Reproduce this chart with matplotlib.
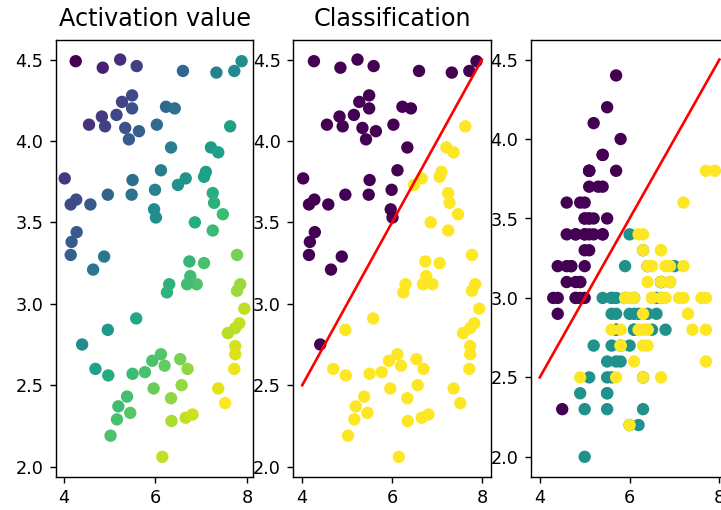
import numpy as np
import matplotlib
matplotlib.use('Agg')
import matplotlib.pyplot as plt

# sample points (x1, x2)
pts_x = [4.26, 4.85, 5.23, 5.59, 5.49, 5.27, 5.49, 5.15, 4.83, 4.55, 4.90, 5.34, 5.64, 5.42,
         4.02, 5.50, 4.96, 5.48, 4.27, 4.15, 4.58, 4.28, 4.17, 4.15, 4.88,
         4.64, 5.58, 4.96, 4.40, 4.69, 4.97, 5.50, 5.77, 5.38, 5.19, 5.45, 5.16, 5.02,
         6.74, 7.06, 7.78, 6.76, 6.90, 6.69, 6.30, 6.25, 7.85, 7.78, 7.94, 7.83, 7.74,
         7.58, 7.74, 7.74, 7.72, 6.12, 5.93, 6.20, 6.54, 6.70, 5.96, 6.57, 6.34, 7.37,
         7.52, 6.35, 6.66, 6.81, 6.15,
         6.60, 7.33, 7.72, 7.88, 6.23, 6.42, 6.03, 7.63, 6.34, 7.21, 7.37, 6.12, 7.10,
         7.06, 6.66, 6.49, 5.99, 7.25, 7.28, 7.47, 5.97, 6.01, 6.86, 7.25]
pts_y = [4.49, 4.45, 4.50, 4.46, 4.28, 4.24, 4.20, 4.16, 4.15, 4.10, 4.09, 4.08, 4.06, 4.01,
         3.77, 3.76, 3.67, 3.67, 3.64, 3.61, 3.61, 3.44, 3.38, 3.30, 3.29,
         3.21, 2.91, 2.84, 2.75, 2.60, 2.56, 2.57, 2.58, 2.43, 2.37, 2.33, 2.29, 2.19,
         3.26, 3.25, 3.30, 3.17, 3.12, 3.12, 3.12, 3.07, 3.12, 3.08, 2.97, 2.88, 2.85,
         2.82, 2.74, 2.69, 2.60, 2.69, 2.65, 2.62, 2.66, 2.60, 2.48, 2.50, 2.42, 2.48,
         2.39, 2.28, 2.30, 2.32, 2.06,
         4.43, 4.42, 4.43, 4.49, 4.21, 4.20, 4.10, 4.09, 3.96, 3.96, 3.93, 3.82, 3.81,
         3.78, 3.77, 3.73, 3.70, 3.68, 3.62, 3.55, 3.58, 3.53, 3.50, 3.45]

# perceptron weights and bias, boundary line end points
weights = [0.5, -1.0]
bias = 0.5
line_x = [4, 8]
line_y = [2.5, 4.5]

# iris: sepal length / sepal width, species 0 1 2
sepal_length = [5.1, 4.9, 4.7, 4.6, 5.0, 5.4, 4.6, 5.0, 4.4, 4.9, 5.4, 4.8, 4.8, 4.3, 5.8, 5.7, 5.4,
                5.1, 5.7, 5.1, 5.4, 5.1, 4.6, 5.1, 4.8, 5.0, 5.0, 5.2, 5.2, 4.7, 4.8, 5.4, 5.2, 5.5,
                4.9, 5.0, 5.5, 4.9, 4.4, 5.1, 5.0, 4.5, 4.4, 5.0, 5.1, 4.8, 5.1, 4.6, 5.3, 5.0,
                7.0, 6.4, 6.9, 5.5, 6.5, 5.7, 6.3, 4.9, 6.6, 5.2, 5.0, 5.9, 6.0, 6.1, 5.6, 6.7, 5.6,
                5.8, 6.2, 5.6, 5.9, 6.1, 6.3, 6.1, 6.4, 6.6, 6.8, 6.7, 6.0, 5.7, 5.5, 5.5, 5.8, 6.0,
                5.4, 6.0, 6.7, 6.3, 5.6, 5.5, 5.5, 6.1, 5.8, 5.0, 5.6, 5.7, 5.7, 6.2, 5.1, 5.7,
                6.3, 5.8, 7.1, 6.3, 6.5, 7.6, 4.9, 7.3, 6.7, 7.2, 6.5, 6.4, 6.8, 5.7, 5.8, 6.4, 6.5,
                7.7, 7.7, 6.0, 6.9, 5.6, 7.7, 6.3, 6.7, 7.2, 6.2, 6.1, 6.4, 7.2, 7.4, 7.9, 6.4, 6.3,
                6.1, 7.7, 6.3, 6.4, 6.0, 6.9, 6.7, 6.9, 5.8, 6.8, 6.7, 6.7, 6.3, 6.5, 6.2, 5.9]
sepal_width = [3.5, 3.0, 3.2, 3.1, 3.6, 3.9, 3.4, 3.4, 2.9, 3.1, 3.7, 3.4, 3.0, 3.0, 4.0, 4.4, 3.9,
               3.5, 3.8, 3.8, 3.4, 3.7, 3.6, 3.3, 3.4, 3.0, 3.4, 3.5, 3.4, 3.2, 3.1, 3.4, 4.1, 4.2,
               3.1, 3.2, 3.5, 3.6, 3.0, 3.4, 3.5, 2.3, 3.2, 3.5, 3.8, 3.0, 3.8, 3.2, 3.7, 3.3,
               3.2, 3.2, 3.1, 2.3, 2.8, 2.8, 3.3, 2.4, 2.9, 2.7, 2.0, 3.0, 2.2, 2.9, 2.9, 3.1, 3.0,
               2.7, 2.2, 2.5, 3.2, 2.8, 2.5, 2.8, 2.9, 3.0, 2.8, 3.0, 2.9, 2.6, 2.4, 2.4, 2.7, 2.7,
               3.0, 3.4, 3.1, 2.3, 3.0, 2.5, 2.6, 3.0, 2.6, 2.3, 2.7, 3.0, 2.9, 2.9, 2.5, 2.8,
               3.3, 2.7, 3.0, 2.9, 3.0, 3.0, 2.5, 2.9, 2.5, 3.6, 3.2, 2.7, 3.0, 2.5, 2.8, 3.2, 3.0,
               3.8, 2.6, 2.2, 3.2, 2.8, 2.8, 2.7, 3.3, 3.2, 2.8, 3.0, 2.8, 3.0, 2.8, 3.8, 2.8, 2.8,
               2.6, 3.0, 3.4, 3.1, 3.0, 3.1, 3.1, 3.1, 2.7, 3.2, 3.3, 3.0, 2.5, 3.0, 3.4, 3.0]
species = [0] * 50 + [1] * 50 + [2] * 50

X = np.column_stack([pts_x, pts_y])
activation = X @ np.array(weights) + bias
label = (activation > 0).astype(int)

fig, axes = plt.subplots(1, 3, figsize=(5.678, 4.0165), dpi=127)
fig.subplots_adjust(left=0.0773, right=1.0101, bottom=0.0653, top=0.922, wspace=0.202)

ax = axes[0]
ax.scatter(pts_x, pts_y, c=activation, cmap='viridis')
ax.set_title('Activation value', fontsize=13.5, pad=8)

ax = axes[1]
ax.scatter(pts_x, pts_y, c=label, cmap='viridis')
ax.plot(line_x, line_y, 'r')
ax.set_title('Classification', fontsize=13.5, pad=8)

ax = axes[2]
ax.scatter(sepal_length, sepal_width, c=species, cmap='viridis')
ax.plot(line_x, line_y, 'r')

for ax in axes:
    ax.set_xticks([4, 6, 8])
    ax.set_yticks([2.0, 2.5, 3.0, 3.5, 4.0, 4.5])

fig.savefig('out.png', dpi=127)
